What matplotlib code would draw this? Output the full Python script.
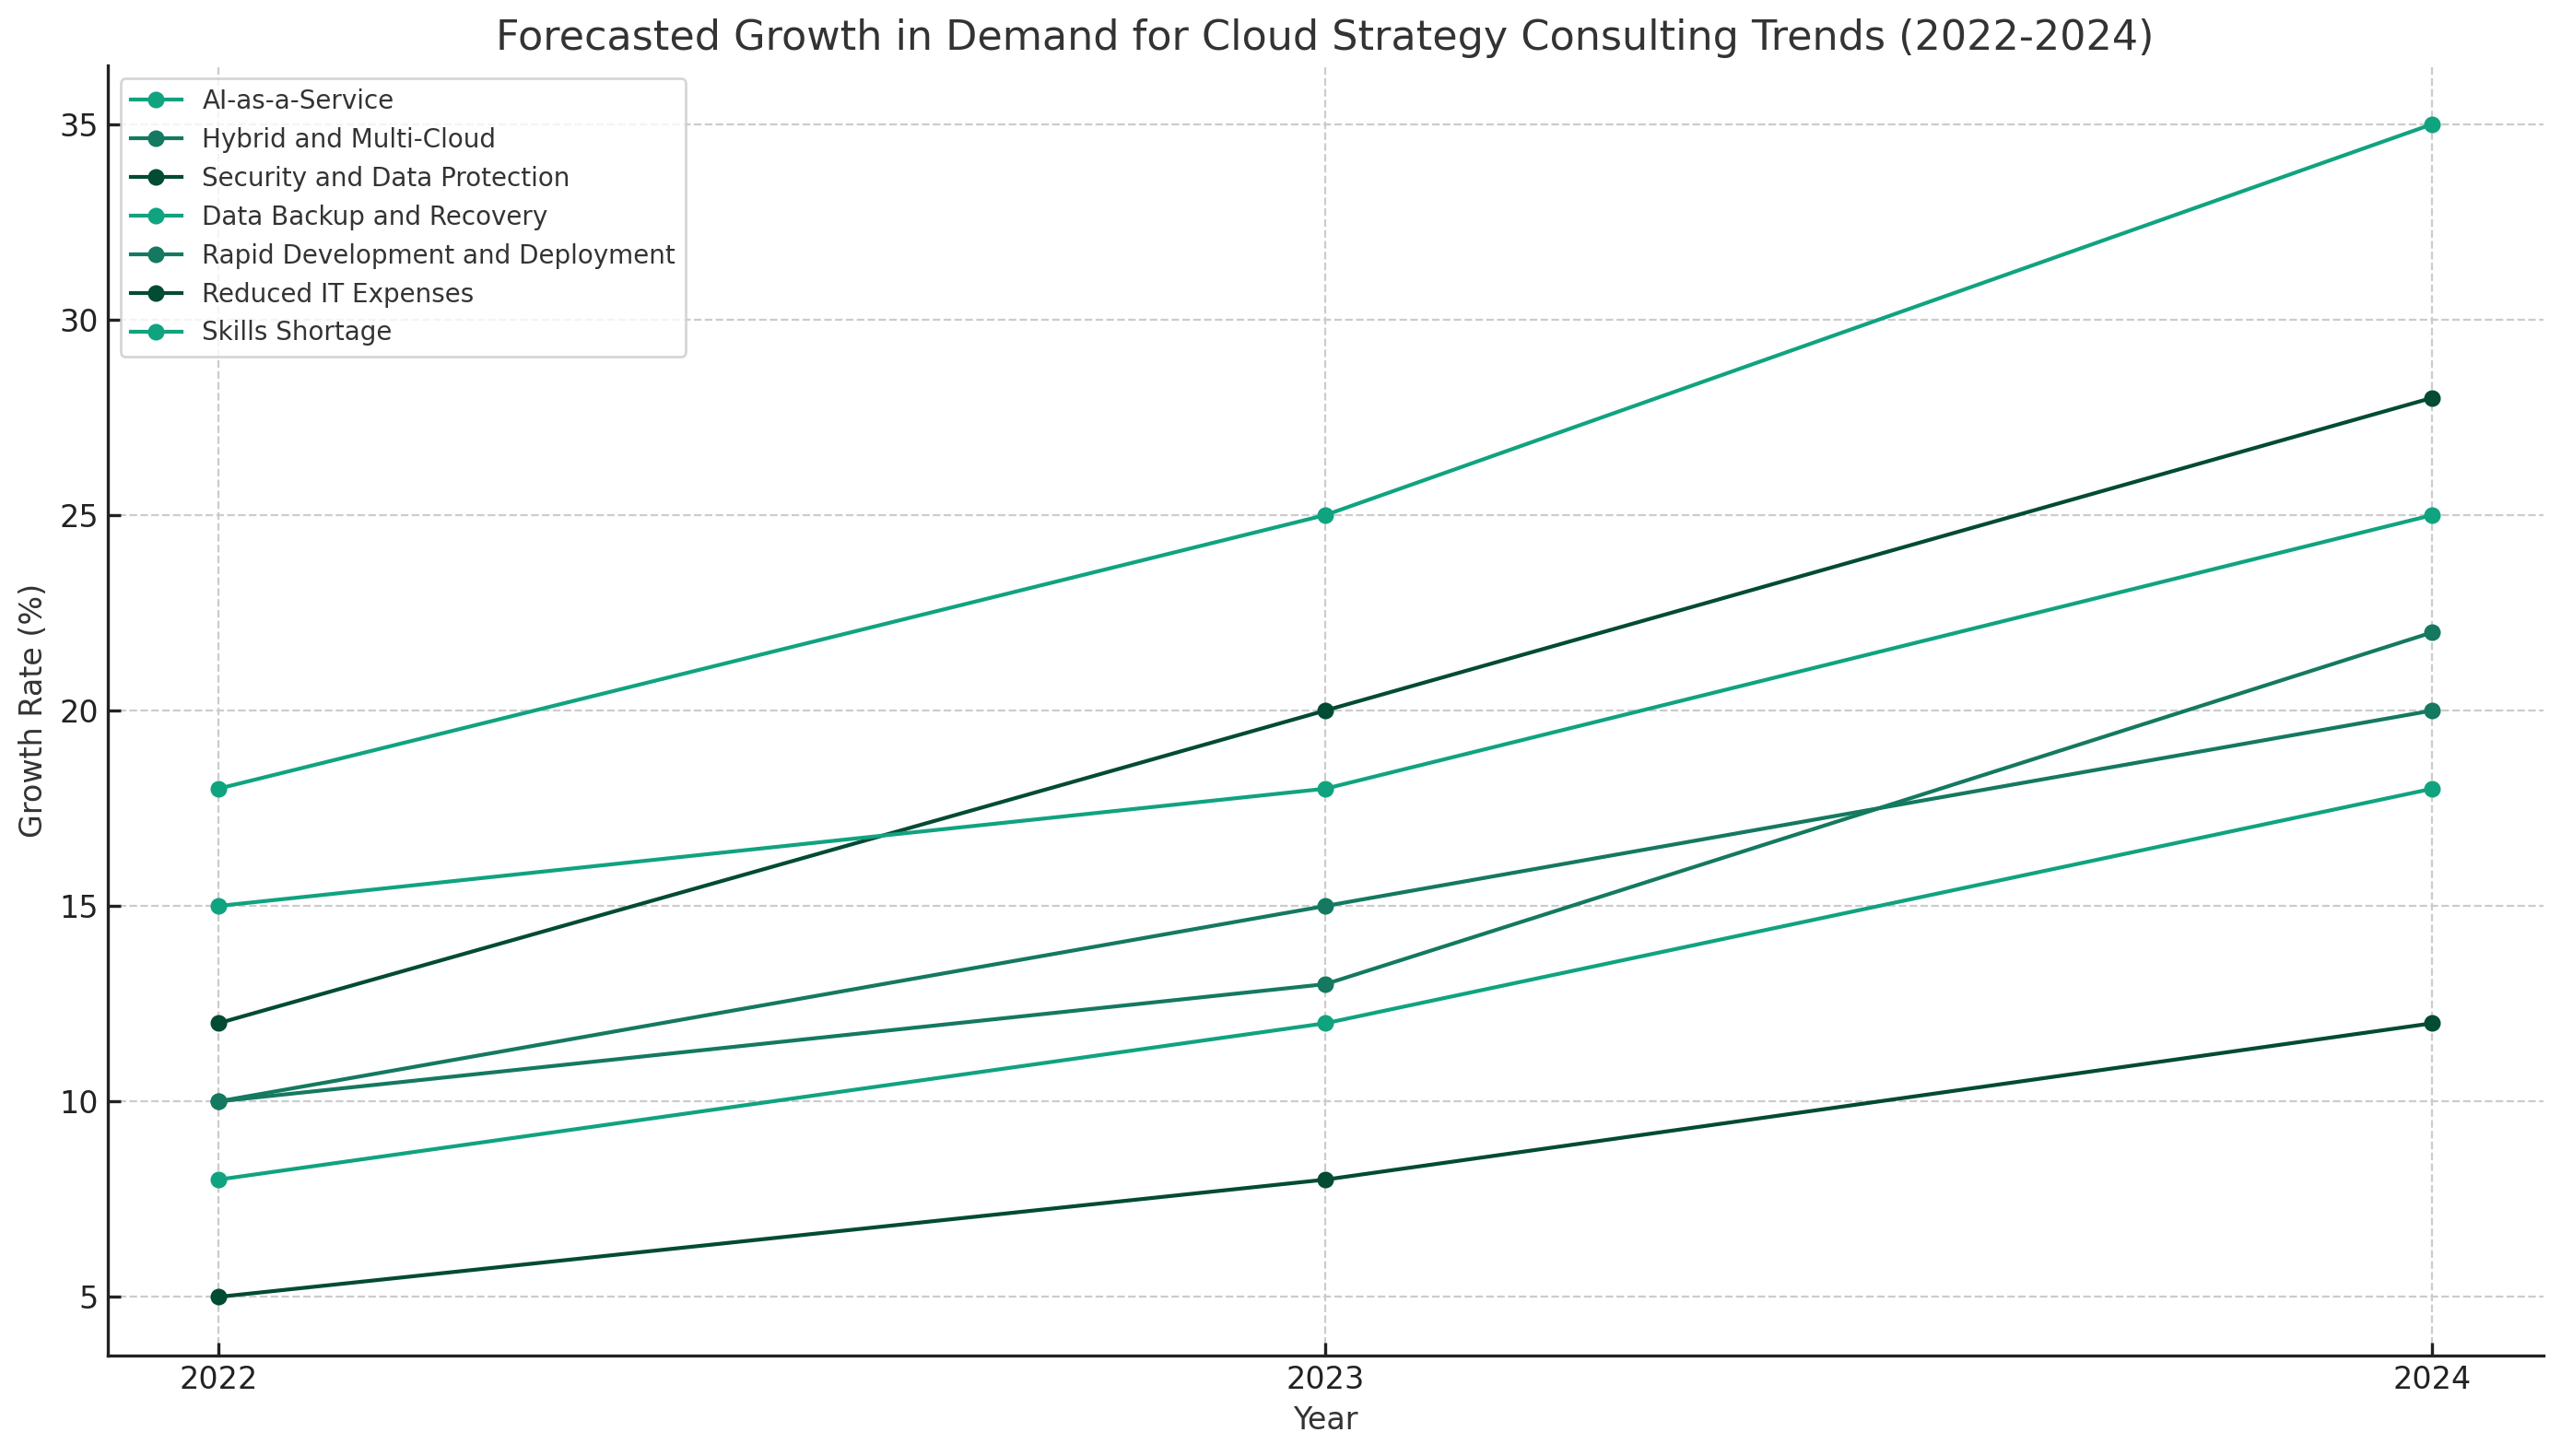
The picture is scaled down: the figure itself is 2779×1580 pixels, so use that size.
import matplotlib
matplotlib.use('Agg')
import matplotlib.pyplot as plt

years = [2022, 2023, 2024]
trends = ['AI-as-a-Service', 'Hybrid and Multi-Cloud', 'Security and Data Protection',
          'Data Backup and Recovery', 'Rapid Development and Deployment',
          'Reduced IT Expenses', 'Skills Shortage']
ai_service = [18, 25, 35]
hybrid_cloud = [10, 15, 20]
security = [12, 20, 28]
data_backup = [15, 18, 25]
rapid_dev = [10, 13, 22]
reduced_it = [5, 8, 12]
skills_shortage = [8, 12, 18]
series = [ai_service, hybrid_cloud, security, data_backup, rapid_dev, reduced_it, skills_shortage]

colors = ['#10a37f', '#147960', '#024b34']

plt.rcParams['font.family'] = 'DejaVu Sans'
fig, ax = plt.subplots(figsize=(13.895, 7.9), dpi=200)

for i, (name, vals) in enumerate(zip(trends, series)):
    ax.plot(years, vals, marker='o', color=colors[i % 3], linewidth=1.5, markersize=5.5, label=name)

ax.set_title('Forecasted Growth in Demand for Cloud Strategy Consulting Trends (2022-2024)',
             fontsize=16, color='#333333')
ax.set_xlabel('Year', fontsize=12, color='#333333')
ax.set_ylabel('Growth Rate (%)', fontsize=12, color='#333333')
ax.set_xticks(years)
ax.tick_params(direction='in', labelsize=12, colors='#222222', width=1.2, length=5)
ax.grid(True, linestyle='--', color='#cccccc', linewidth=0.8)
ax.set_axisbelow(True)
for s in ['top', 'right']:
    ax.spines[s].set_visible(False)
for s in ['left', 'bottom']:
    ax.spines[s].set_color('#222222')
    ax.spines[s].set_linewidth(1.2)

leg = ax.legend(loc='upper left', fontsize=10, frameon=True, fancybox=True)
leg.get_frame().set_edgecolor('#cccccc')
for t in leg.get_texts():
    t.set_color('#333333')

fig.subplots_adjust(left=0.042, right=0.993, top=0.955, bottom=0.069)
fig.savefig('out.png', dpi=200)
